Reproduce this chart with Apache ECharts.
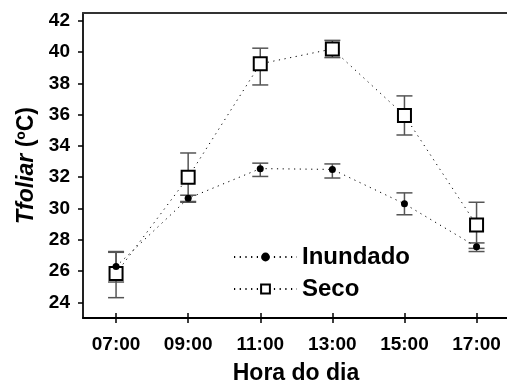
<!DOCTYPE html>
<html>
<head>
<meta charset="utf-8">
<script src="https://cdn.jsdelivr.net/npm/echarts@6/dist/echarts.min.js"></script>
<style>
  html, body { margin: 0; padding: 0; background: #fff; }
  #chart { width: 507px; height: 383px; }
</style>
</head>
<body>
<div id="chart"></div>
<script>
// horas do dia
var hours = ['07:00', '09:00', '11:00', '13:00', '15:00', '17:00'];
// Inundado: media e barras de erro
var inundado = [26.3, 30.65, 32.55, 32.5, 30.3, 27.55];
var inundadoLow = [25.3, 30.4, 32.05, 31.95, 29.6, 27.25];
var inundadoHigh = [27.2, 30.85, 32.9, 32.85, 31.0, 27.8];
// Seco
var seco = [25.85, 32.0, 39.25, 40.2, 35.95, 28.95];
var secoLow = [24.3, 30.45, 37.9, 39.65, 34.7, 27.45];
var secoHigh = [27.25, 33.55, 40.25, 40.75, 37.2, 30.4];
// ticks
var yTicks = [24, 26, 28, 30, 32, 34, 36, 38, 40, 42];

var hourNum = hours.map(function (h) { return parseInt(h, 10); });
var font = 'Liberation Sans, Arial, sans-serif';

function pts(vals) {
  return vals.map(function (v, i) { return [hourNum[i], v]; });
}
function errData(low, high) {
  return low.map(function (v, i) { return [hourNum[i], v, high[i]]; });
}
function errorBar(params, api) {
  var x = api.value(0);
  var lo = api.coord([x, api.value(1)]);
  var hi = api.coord([x, api.value(2)]);
  var w = 8;
  var st = { stroke: '#555', lineWidth: 1.5 };
  return {
    type: 'group',
    children: [
      { type: 'line', shape: { x1: lo[0], y1: lo[1], x2: hi[0], y2: hi[1] }, style: st },
      { type: 'line', shape: { x1: lo[0] - w, y1: lo[1], x2: lo[0] + w, y2: lo[1] }, style: st },
      { type: 'line', shape: { x1: hi[0] - w, y1: hi[1], x2: hi[0] + w, y2: hi[1] }, style: st }
    ]
  };
}

var myChart = echarts.init(document.getElementById('chart'));
var option = {
  animation: false,
  grid: { left: 83, right: -2, top: 13, bottom: 65, outerBoundsMode: 'none', containLabel: false },
  legend: {
    orient: 'vertical',
    left: 228,
    top: 240,
    itemWidth: 63,
    itemHeight: 11,
    itemGap: 8,
    data: ['Inundado', 'Seco'],
    textStyle: { fontFamily: font, fontWeight: 'bold', fontSize: 24, color: '#000' }
  },
  xAxis: [
    {
      type: 'value',
      min: 6.083,
      max: 17.9,
      name: 'Hora do dia',
      nameLocation: 'middle',
      nameGap: 44,
      nameTextStyle: { fontFamily: font, fontWeight: 'bold', fontSize: 23, color: '#000' },
      splitLine: { show: false },
      axisLine: { lineStyle: { color: '#000', width: 2 } },
      axisTick: { customValues: hourNum, length: 5, lineStyle: { color: '#000', width: 1.5 } },
      axisLabel: {
        customValues: hourNum,
        margin: 17,
        fontFamily: font, fontWeight: 'bold', fontSize: 19, color: '#000',
        formatter: function (v) { return hours[hourNum.indexOf(v)] || ''; }
      }
    },
    {
      // ticks para dentro
      type: 'value',
      position: 'bottom',
      min: 6.083,
      max: 17.9,
      splitLine: { show: false },
      axisLine: { show: false },
      axisTick: { inside: true, customValues: hourNum, length: 5, lineStyle: { color: '#000', width: 1.5 } },
      axisLabel: { show: false }
    },
    {
      // linha de cima
      type: 'value',
      position: 'top',
      min: 6.083,
      max: 17.9,
      splitLine: { show: false },
      axisLine: { lineStyle: { color: '#333', width: 2 } },
      axisTick: { show: false },
      axisLabel: { show: false }
    }
  ],
  yAxis: {
    type: 'value',
    min: 23,
    max: 42.5,
    name: '{i|Tfoliar} (ºC)',
    nameLocation: 'middle',
    nameGap: 44,
    nameTextStyle: {
      fontFamily: font, fontWeight: 'bold', fontSize: 23, color: '#000',
      rich: { i: { fontFamily: font, fontWeight: 'bold', fontStyle: 'italic', fontSize: 23, color: '#000' } }
    },
    splitLine: { show: false },
    axisLine: { show: true, lineStyle: { color: '#222', width: 2 } },
    axisTick: { customValues: yTicks, length: 5, lineStyle: { color: '#000', width: 1.5 } },
    axisLabel: {
      customValues: yTicks,
      margin: 13,
      fontFamily: font, fontWeight: 'bold', fontSize: 19, color: '#000'
    }
  },
  series: [
    {
      name: 'errInundado',
      type: 'custom',
      renderItem: errorBar,
      data: errData(inundadoLow, inundadoHigh),
      z: 1
    },
    {
      name: 'errSeco',
      type: 'custom',
      renderItem: errorBar,
      data: errData(secoLow, secoHigh),
      z: 1
    },
    {
      name: 'Seco',
      type: 'line',
      data: pts(seco),
      symbol: 'rect',
      symbolSize: 13,
      lineStyle: { color: '#000', width: 1, type: [1.2, 4.5] },
      itemStyle: { color: '#fff', borderColor: '#000', borderWidth: 2 },
      z: 3
    },
    {
      name: 'Inundado',
      type: 'line',
      data: pts(inundado),
      symbol: 'circle',
      symbolSize: 7,
      lineStyle: { color: '#000', width: 1, type: [1.2, 4.5] },
      itemStyle: { color: '#000' },
      z: 4
    }
  ]
};
myChart.setOption(option);
</script>
</body>
</html>
